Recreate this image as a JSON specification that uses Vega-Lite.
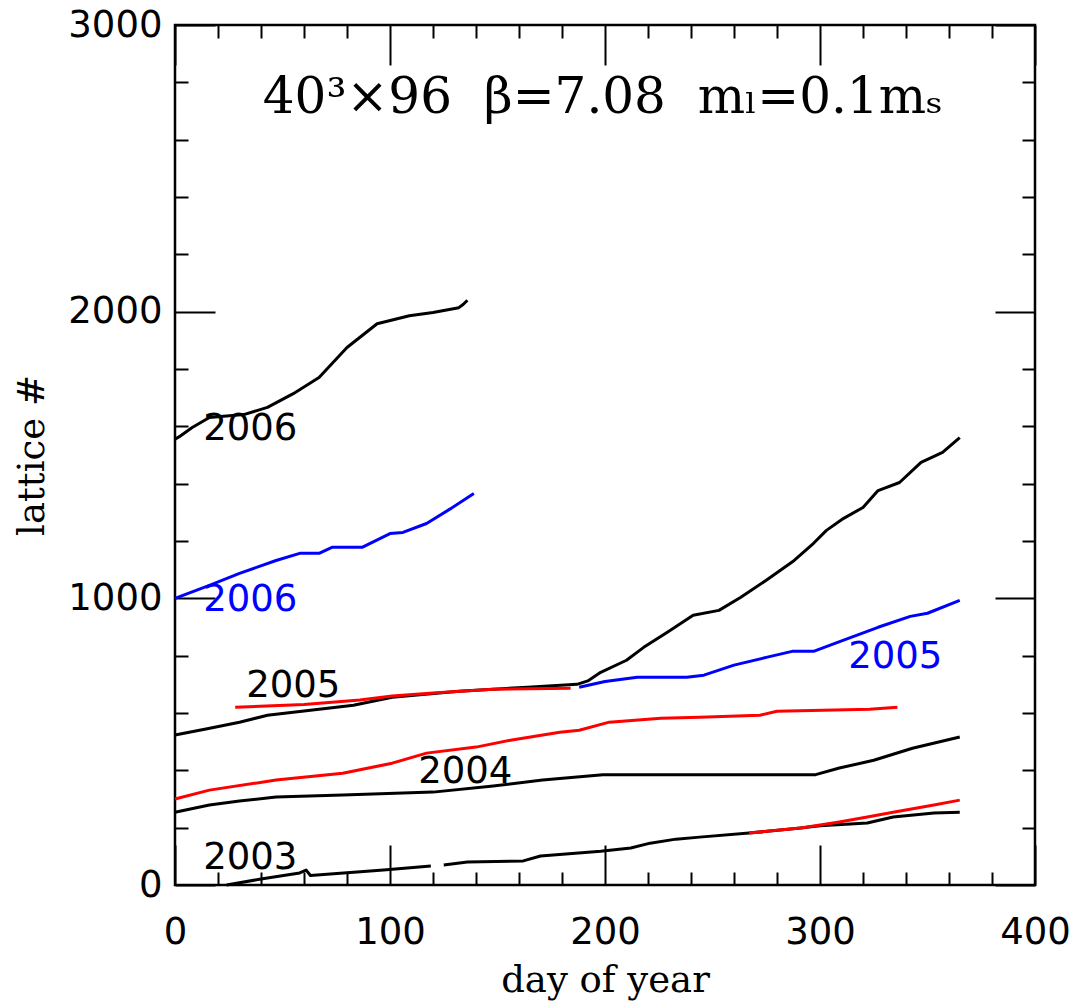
{
  "$schema": "https://vega.github.io/schema/vega-lite/v6.json",
  "autosize": "none",
  "width": 860,
  "height": 860,
  "padding": {"left": 175, "top": 25, "right": 41, "bottom": 120},
  "background": "white",
  "config": {
    "view": {"stroke": "black", "strokeWidth": 2.5},
    "axis": {"grid": false, "domain": false, "tickColor": "black", "tickWidth": 2, "labelColor": "black", "titleColor": "black", "labelFont": "DejaVu Sans", "labelFontSize": 37, "labelFlush": false, "labelOverlap": false, "titleFont": "DejaVu Serif", "titleFontSize": 37, "titleFontWeight": "normal", "format": "d"}
  },
  "datasets": {
    "lines": [
      {"s": "k2006", "c": "black", "d": 0, "n": 1555},
      {"s": "k2006", "c": "black", "d": 2, "n": 1564},
      {"s": "k2006", "c": "black", "d": 8, "n": 1596},
      {"s": "k2006", "c": "black", "d": 16, "n": 1631},
      {"s": "k2006", "c": "black", "d": 24, "n": 1636},
      {"s": "k2006", "c": "black", "d": 32, "n": 1641},
      {"s": "k2006", "c": "black", "d": 43, "n": 1666},
      {"s": "k2006", "c": "black", "d": 55, "n": 1714},
      {"s": "k2006", "c": "black", "d": 67, "n": 1770},
      {"s": "k2006", "c": "black", "d": 80, "n": 1875},
      {"s": "k2006", "c": "black", "d": 94, "n": 1958},
      {"s": "k2006", "c": "black", "d": 109, "n": 1986},
      {"s": "k2006", "c": "black", "d": 120, "n": 1997},
      {"s": "k2006", "c": "black", "d": 132, "n": 2014},
      {"s": "k2006", "c": "black", "d": 134, "n": 2025},
      {"s": "k2006", "c": "black", "d": 136, "n": 2040},
      {"s": "b2006", "c": "blue", "d": 0, "n": 1000},
      {"s": "b2006", "c": "blue", "d": 16, "n": 1045},
      {"s": "b2006", "c": "blue", "d": 30, "n": 1087},
      {"s": "b2006", "c": "blue", "d": 47, "n": 1132},
      {"s": "b2006", "c": "blue", "d": 58, "n": 1157},
      {"s": "b2006", "c": "blue", "d": 67, "n": 1157},
      {"s": "b2006", "c": "blue", "d": 73, "n": 1178},
      {"s": "b2006", "c": "blue", "d": 87, "n": 1178},
      {"s": "b2006", "c": "blue", "d": 100, "n": 1226},
      {"s": "b2006", "c": "blue", "d": 106, "n": 1230},
      {"s": "b2006", "c": "blue", "d": 117, "n": 1261},
      {"s": "b2006", "c": "blue", "d": 128, "n": 1312},
      {"s": "b2006", "c": "blue", "d": 139, "n": 1366},
      {"s": "k2005", "c": "black", "d": 0, "n": 523},
      {"s": "k2005", "c": "black", "d": 15, "n": 545},
      {"s": "k2005", "c": "black", "d": 30, "n": 568},
      {"s": "k2005", "c": "black", "d": 43, "n": 592},
      {"s": "k2005", "c": "black", "d": 60, "n": 607},
      {"s": "k2005", "c": "black", "d": 83, "n": 627},
      {"s": "k2005", "c": "black", "d": 101, "n": 655},
      {"s": "k2005", "c": "black", "d": 132, "n": 676},
      {"s": "k2005", "c": "black", "d": 164, "n": 690},
      {"s": "k2005", "c": "black", "d": 187, "n": 700},
      {"s": "k2005", "c": "black", "d": 192, "n": 712},
      {"s": "k2005", "c": "black", "d": 198, "n": 742},
      {"s": "k2005", "c": "black", "d": 210, "n": 784},
      {"s": "k2005", "c": "black", "d": 218, "n": 829},
      {"s": "k2005", "c": "black", "d": 229, "n": 882},
      {"s": "k2005", "c": "black", "d": 241, "n": 941},
      {"s": "k2005", "c": "black", "d": 253, "n": 958},
      {"s": "k2005", "c": "black", "d": 263, "n": 1003},
      {"s": "k2005", "c": "black", "d": 275, "n": 1063},
      {"s": "k2005", "c": "black", "d": 288, "n": 1132},
      {"s": "k2005", "c": "black", "d": 297, "n": 1192},
      {"s": "k2005", "c": "black", "d": 303, "n": 1237},
      {"s": "k2005", "c": "black", "d": 311, "n": 1279},
      {"s": "k2005", "c": "black", "d": 320, "n": 1317},
      {"s": "k2005", "c": "black", "d": 327, "n": 1376},
      {"s": "k2005", "c": "black", "d": 337, "n": 1404},
      {"s": "k2005", "c": "black", "d": 347, "n": 1474},
      {"s": "k2005", "c": "black", "d": 357, "n": 1509},
      {"s": "k2005", "c": "black", "d": 365, "n": 1561},
      {"s": "r2005", "c": "red", "d": 28, "n": 620},
      {"s": "r2005", "c": "red", "d": 60, "n": 630},
      {"s": "r2005", "c": "red", "d": 86, "n": 645},
      {"s": "r2005", "c": "red", "d": 101, "n": 659},
      {"s": "r2005", "c": "red", "d": 120, "n": 670},
      {"s": "r2005", "c": "red", "d": 148, "n": 683},
      {"s": "r2005", "c": "red", "d": 184, "n": 686},
      {"s": "b2005", "c": "blue", "d": 188, "n": 690},
      {"s": "b2005", "c": "blue", "d": 200, "n": 710},
      {"s": "b2005", "c": "blue", "d": 215, "n": 725},
      {"s": "b2005", "c": "blue", "d": 238, "n": 725},
      {"s": "b2005", "c": "blue", "d": 246, "n": 732},
      {"s": "b2005", "c": "blue", "d": 260, "n": 767},
      {"s": "b2005", "c": "blue", "d": 275, "n": 794},
      {"s": "b2005", "c": "blue", "d": 287, "n": 815},
      {"s": "b2005", "c": "blue", "d": 297, "n": 815},
      {"s": "b2005", "c": "blue", "d": 311, "n": 854},
      {"s": "b2005", "c": "blue", "d": 327, "n": 899},
      {"s": "b2005", "c": "blue", "d": 342, "n": 937},
      {"s": "b2005", "c": "blue", "d": 350, "n": 948},
      {"s": "b2005", "c": "blue", "d": 365, "n": 993},
      {"s": "r2004", "c": "red", "d": 0, "n": 300},
      {"s": "r2004", "c": "red", "d": 16, "n": 331},
      {"s": "r2004", "c": "red", "d": 47, "n": 366},
      {"s": "r2004", "c": "red", "d": 78, "n": 390},
      {"s": "r2004", "c": "red", "d": 101, "n": 425},
      {"s": "r2004", "c": "red", "d": 117, "n": 460},
      {"s": "r2004", "c": "red", "d": 140, "n": 481},
      {"s": "r2004", "c": "red", "d": 156, "n": 505},
      {"s": "r2004", "c": "red", "d": 179, "n": 533},
      {"s": "r2004", "c": "red", "d": 188, "n": 540},
      {"s": "r2004", "c": "red", "d": 202, "n": 568},
      {"s": "r2004", "c": "red", "d": 226, "n": 582},
      {"s": "r2004", "c": "red", "d": 244, "n": 585},
      {"s": "r2004", "c": "red", "d": 272, "n": 592},
      {"s": "r2004", "c": "red", "d": 280, "n": 606},
      {"s": "r2004", "c": "red", "d": 323, "n": 613},
      {"s": "r2004", "c": "red", "d": 336, "n": 620},
      {"s": "k2004", "c": "black", "d": 0, "n": 254},
      {"s": "k2004", "c": "black", "d": 16, "n": 279},
      {"s": "k2004", "c": "black", "d": 30, "n": 293},
      {"s": "k2004", "c": "black", "d": 47, "n": 307},
      {"s": "k2004", "c": "black", "d": 78, "n": 314},
      {"s": "k2004", "c": "black", "d": 120, "n": 324},
      {"s": "k2004", "c": "black", "d": 148, "n": 345},
      {"s": "k2004", "c": "black", "d": 171, "n": 366},
      {"s": "k2004", "c": "black", "d": 199, "n": 385},
      {"s": "k2004", "c": "black", "d": 298, "n": 385},
      {"s": "k2004", "c": "black", "d": 309, "n": 408},
      {"s": "k2004", "c": "black", "d": 325, "n": 435},
      {"s": "k2004", "c": "black", "d": 343, "n": 477},
      {"s": "k2004", "c": "black", "d": 365, "n": 516},
      {"s": "k2003a", "c": "black", "d": 24, "n": 0},
      {"s": "k2003a", "c": "black", "d": 40, "n": 21},
      {"s": "k2003a", "c": "black", "d": 58, "n": 42},
      {"s": "k2003a", "c": "black", "d": 61, "n": 52},
      {"s": "k2003a", "c": "black", "d": 63, "n": 33},
      {"s": "k2003a", "c": "black", "d": 97, "n": 52},
      {"s": "k2003a", "c": "black", "d": 119, "n": 66},
      {"s": "k2003b", "c": "black", "d": 125, "n": 70},
      {"s": "k2003b", "c": "black", "d": 136, "n": 80},
      {"s": "k2003b", "c": "black", "d": 162, "n": 84},
      {"s": "k2003b", "c": "black", "d": 170, "n": 101},
      {"s": "k2003b", "c": "black", "d": 198, "n": 118},
      {"s": "k2003b", "c": "black", "d": 212, "n": 129},
      {"s": "k2003b", "c": "black", "d": 221, "n": 146},
      {"s": "k2003b", "c": "black", "d": 233, "n": 160},
      {"s": "k2003b", "c": "black", "d": 244, "n": 167},
      {"s": "k2003b", "c": "black", "d": 267, "n": 181},
      {"s": "k2003b", "c": "black", "d": 291, "n": 199},
      {"s": "k2003b", "c": "black", "d": 300, "n": 207},
      {"s": "k2003b", "c": "black", "d": 322, "n": 216},
      {"s": "k2003b", "c": "black", "d": 334, "n": 237},
      {"s": "k2003b", "c": "black", "d": 353, "n": 251},
      {"s": "k2003b", "c": "black", "d": 365, "n": 254},
      {"s": "r2003", "c": "red", "d": 267, "n": 181},
      {"s": "r2003", "c": "red", "d": 291, "n": 199},
      {"s": "r2003", "c": "red", "d": 309, "n": 220},
      {"s": "r2003", "c": "red", "d": 322, "n": 237},
      {"s": "r2003", "c": "red", "d": 334, "n": 254},
      {"s": "r2003", "c": "red", "d": 353, "n": 279},
      {"s": "r2003", "c": "red", "d": 365, "n": 296}
    ],
    "blackLabels": [
      {"t": "2006", "d": 35, "n": 1592},
      {"t": "2005", "d": 55, "n": 693},
      {"t": "2004", "d": 135, "n": 394},
      {"t": "2003", "d": 35, "n": 94}
    ],
    "blueLabels": [
      {"t": "2006", "d": 35, "n": 993},
      {"t": "2005", "d": 335, "n": 794}
    ],
    "title": [
      {"t": "40³×96\u00a0\u00a0β=7.08\u00a0\u00a0mₗ=0.1mₛ", "d": 199, "n": 2745}
    ]
  },
  "resolve": {"axis": {"x": "independent", "y": "independent"}},
  "layer": [
    {
      "data": {"name": "lines"},
      "mark": {"type": "line", "strokeWidth": 3, "strokeJoin": "round", "strokeCap": "butt"},
      "encoding": {
        "x": {"field": "d", "type": "quantitative", "scale": {"domain": [0, 400], "nice": false, "zero": false},
              "axis": {"orient": "bottom", "values": [0, 100, 200, 300, 400], "tickSize": -40, "labelPadding": 69, "title": "day of year", "titlePadding": 12}},
        "y": {"field": "n", "type": "quantitative", "scale": {"domain": [0, 3000], "nice": false, "zero": false},
              "axis": {"orient": "left", "values": [0, 1000, 2000, 3000], "tickSize": -40, "labelPadding": 53, "title": "lattice #", "titlePadding": 16}},
        "color": {"field": "c", "type": "nominal", "scale": {"domain": ["black", "red", "blue"], "range": ["#000000", "#ff0000", "#0000ff"]}, "legend": null},
        "detail": {"field": "s", "type": "nominal"}
      }
    },
    {
      "data": {"name": "blackLabels"},
      "mark": {"type": "text", "font": "DejaVu Sans", "fontSize": 37, "color": "black", "align": "center", "baseline": "middle"},
      "encoding": {
        "x": {"field": "d", "type": "quantitative", "axis": {"orient": "top", "values": [0, 100, 200, 300, 400], "tickSize": -40, "labels": false, "title": null}},
        "y": {"field": "n", "type": "quantitative", "axis": {"orient": "right", "values": [0, 1000, 2000, 3000], "tickSize": -40, "labels": false, "title": null}},
        "text": {"field": "t", "type": "nominal"}
      }
    },
    {
      "data": {"name": "blueLabels"},
      "mark": {"type": "text", "font": "DejaVu Sans", "fontSize": 37, "color": "#0000ff", "align": "center", "baseline": "middle"},
      "encoding": {
        "x": {"field": "d", "type": "quantitative", "axis": {"orient": "bottom", "values": [20, 40, 60, 80, 120, 140, 160, 180, 220, 240, 260, 280, 320, 340, 360, 380], "tickSize": -13, "labels": false, "title": null}},
        "y": {"field": "n", "type": "quantitative", "axis": {"orient": "left", "values": [200, 400, 600, 800, 1200, 1400, 1600, 1800, 2200, 2400, 2600, 2800], "tickSize": -13, "labels": false, "title": null}},
        "text": {"field": "t", "type": "nominal"}
      }
    },
    {
      "data": {"name": "title"},
      "mark": {"type": "text", "font": "DejaVu Serif", "fontSize": 50, "color": "black", "align": "center", "baseline": "middle"},
      "encoding": {
        "x": {"field": "d", "type": "quantitative", "axis": {"orient": "top", "values": [20, 40, 60, 80, 120, 140, 160, 180, 220, 240, 260, 280, 320, 340, 360, 380], "tickSize": -13, "labels": false, "title": null}},
        "y": {"field": "n", "type": "quantitative", "axis": {"orient": "right", "values": [200, 400, 600, 800, 1200, 1400, 1600, 1800, 2200, 2400, 2600, 2800], "tickSize": -13, "labels": false, "title": null}},
        "text": {"field": "t", "type": "nominal"}
      }
    }
  ]
}
